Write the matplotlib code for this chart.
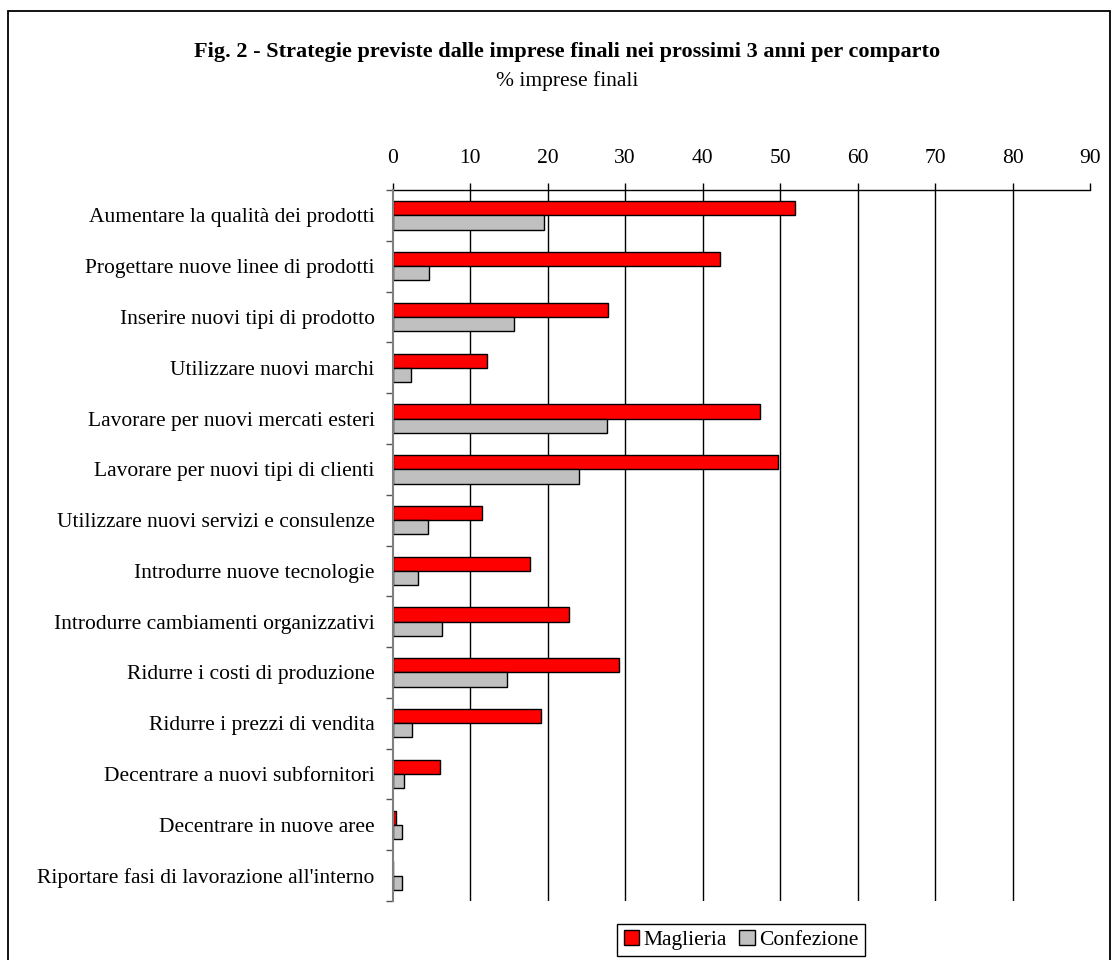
import matplotlib
matplotlib.use('Agg')
import matplotlib.pyplot as plt
from matplotlib.patches import Rectangle, Patch
import numpy as np

# Strategie previste dalle imprese finali (% imprese), per comparto
categories = [
    'Aumentare la qualità dei prodotti',
    'Progettare nuove linee di prodotti',
    'Inserire nuovi tipi di prodotto',
    'Utilizzare nuovi marchi',
    'Lavorare per nuovi mercati esteri',
    'Lavorare per nuovi tipi di clienti',
    'Utilizzare nuovi servizi e consulenze',
    'Introdurre nuove tecnologie',
    'Introdurre cambiamenti organizzativi',
    'Ridurre i costi di produzione',
    'Ridurre i prezzi di vendita',
    'Decentrare a nuovi subfornitori',
    'Decentrare in nuove aree',
    "Riportare fasi di lavorazione all'interno",
]
maglieria = [51.9, 42.2, 27.8, 12.2, 47.4, 49.7, 11.5, 17.7, 22.8, 29.2, 19.2, 6.1, 0.4, 0.0]
confezione = [19.5, 4.7, 15.7, 2.4, 27.6, 24.0, 4.5, 3.3, 6.4, 14.8, 2.5, 1.4, 1.2, 1.2]
x_ticks = list(range(0, 100, 10))

plt.rcParams['font.family'] = ['Liberation Serif', 'DejaVu Serif']
FS = 15.5

W, H = 1114, 960
fig = plt.figure(figsize=(W / 100, H / 100), dpi=100)

# outer frame of the figure
fig.patches.append(Rectangle((8 / W, -0.02), (1110 - 8) / W, (H - 11) / H + 0.02,
                             transform=fig.transFigure, fill=False,
                             edgecolor='black', linewidth=1.3))

ax_left, ax_right, ax_top, ax_bottom = 392.7, 1090, 190, 901
ax = fig.add_axes([ax_left / W, (H - ax_bottom) / H,
                   (ax_right - ax_left) / W, (ax_bottom - ax_top) / H])

y = np.arange(len(categories))
bar_h = 0.28
ax.barh(y - bar_h / 2, maglieria, height=bar_h, color='#FF0000',
        edgecolor='black', linewidth=1.0, label='Maglieria', zorder=3)
ax.barh(y + bar_h / 2, confezione, height=bar_h, color='#C0C0C0',
        edgecolor='black', linewidth=1.0, label='Confezione', zorder=3)

ax.set_xlim(0, 90)
ax.set_ylim(len(categories) - 0.5, -0.5)

# x axis on top
ax.xaxis.tick_top()
ax.set_xticks(x_ticks)
ax.tick_params(axis='x', length=5, width=1, pad=11, labelsize=FS, color='black')
ax.grid(axis='x', color='black', linewidth=1.0, zorder=1)
xgl = ax.get_xgridlines()
xgl[0].set_visible(False)
xgl[-1].set_visible(False)

# y axis: ticks on category boundaries, labels at centres
ax.set_yticks(np.arange(len(categories) + 1) - 0.5)
ax.set_yticklabels([])
ax.set_yticks(y, minor=True)
ax.set_yticklabels(categories, minor=True)
ax.tick_params(axis='y', which='major', length=5, width=1, color='#555555')
ax.tick_params(axis='y', which='minor', length=0, pad=13, labelsize=FS)

for side in ['right', 'bottom']:
    ax.spines[side].set_visible(False)
ax.spines['top'].set_color('black')
ax.spines['top'].set_linewidth(1.0)
ax.spines['left'].set_color('#808080')
ax.spines['left'].set_linewidth(1.5)
ax.spines['left'].set_zorder(5)

fig.text(567 / W, 1 - 57 / H,
         'Fig. 2 - Strategie previste dalle imprese finali nei prossimi 3 anni per comparto',
         ha='center', va='baseline', fontsize=16, fontweight='bold')
fig.text(567 / W, 1 - 86 / H, '% imprese finali', ha='center', va='baseline', fontsize=FS)

handles = [Patch(facecolor='#FF0000', edgecolor='black', linewidth=1.0, label='Maglieria'),
           Patch(facecolor='#C0C0C0', edgecolor='black', linewidth=1.0, label='Confezione')]
leg = fig.legend(handles=handles, loc='center', bbox_to_anchor=(741 / W, 1 - 940 / H),
                 ncol=2, fontsize=FS, frameon=True, fancybox=False, framealpha=1,
                 handlelength=0.7, handleheight=0.7, handletextpad=0.2,
                 columnspacing=0.6, borderpad=0.3, borderaxespad=0)
leg.get_frame().set_edgecolor('black')
leg.get_frame().set_linewidth(1.0)

fig.savefig('out.png', dpi=100)
